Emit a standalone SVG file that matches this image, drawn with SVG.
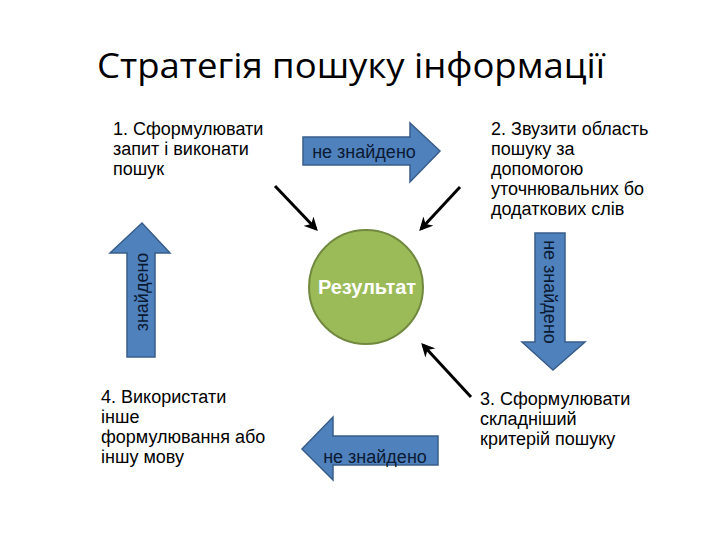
<svg xmlns="http://www.w3.org/2000/svg" width="720" height="540" viewBox="0 0 720 540">
<defs>
<style>
.t{font-family:"Liberation Sans",Arial,sans-serif;font-size:18px;fill:#000}
.title{font-family:"Open Sans","Liberation Sans",sans-serif;font-size:35px;fill:#000}
.arr{fill:#4F81BD;stroke:#385D8A;stroke-width:1.5}
.lab{font-family:"Liberation Sans",Arial,sans-serif;font-size:18px;fill:#0b1a33}
.con{stroke:#000;stroke-width:3;fill:none;marker-end:url(#ah)}
</style>
<marker id="ah" viewBox="0 0 10 10" refX="8" refY="5" markerWidth="4.5" markerHeight="4.5" orient="auto" markerUnits="strokeWidth">
<path d="M0,0 L10,5 L0,10 L3,5 z" fill="#000"/>
</marker>
</defs>
<rect width="720" height="540" fill="#fff"/>
<text class="title" x="97" y="78" textLength="508" lengthAdjust="spacingAndGlyphs">Стратегія пошуку інформації</text>

<g id="step1"><text class="t" x="113" y="135">1. Сформулювати</text><text class="t" x="113" y="155">запит і виконати</text><text class="t" x="113" y="175">пошук</text></g>
<g id="step2"><text class="t" x="491" y="135">2. Звузити область</text><text class="t" x="491" y="155">пошуку за</text><text class="t" x="491" y="175">допомогою</text><text class="t" x="491" y="195">уточнювальних бо</text><text class="t" x="491" y="215">додаткових слів</text></g>
<g id="step3"><text class="t" x="480" y="405">3. Сформулювати</text><text class="t" x="480" y="425">складніший</text><text class="t" x="480" y="445">критерій пошуку</text></g>
<g id="step4"><text class="t" x="101" y="403">4. Використати</text><text class="t" x="101" y="423">інше</text><text class="t" x="101" y="443">формулювання або</text><text class="t" x="101" y="463">іншу мову</text></g>

<g id="result">
<circle cx="366" cy="287" r="57" fill="#9BBB59" stroke="#71893F" stroke-width="2"/>
<text x="367" y="294" text-anchor="middle" style="font-family:'Liberation Sans',Arial,sans-serif;font-size:20px;font-weight:bold;fill:#fff">Результат</text>
</g>

<g id="arrow-right">
<path class="arr" d="M303,137 H410 V123 L440,151 L410,182 V165 H303 Z"/>
<text class="lab" x="364" y="158" text-anchor="middle">не знайдено</text>
</g>
<g id="arrow-down">
<path class="arr" d="M535,233 H565 V342 H585 L553,370 L522,342 H535 Z"/>
<text class="lab" transform="translate(544,292) rotate(90)" text-anchor="middle">не знайдено</text>
</g>
<g id="arrow-left">
<path class="arr" d="M438,436 H333 V417 L302,449 L333,480 V465 H438 Z"/>
<text class="lab" x="375" y="463" text-anchor="middle">не знайдено</text>
</g>
<g id="arrow-up">
<path class="arr" d="M127,357 V253 H110 L142,223 L170,253 H155 V357 Z"/>
<text class="lab" transform="translate(148,292) rotate(-90)" text-anchor="middle">знайдено</text>
</g>

<g id="connectors">
<line class="con" x1="275" y1="186" x2="316" y2="229"/>
<line class="con" x1="460" y1="187" x2="421" y2="229"/>
<line class="con" x1="471" y1="397" x2="423" y2="345"/>
</g>
</svg>
